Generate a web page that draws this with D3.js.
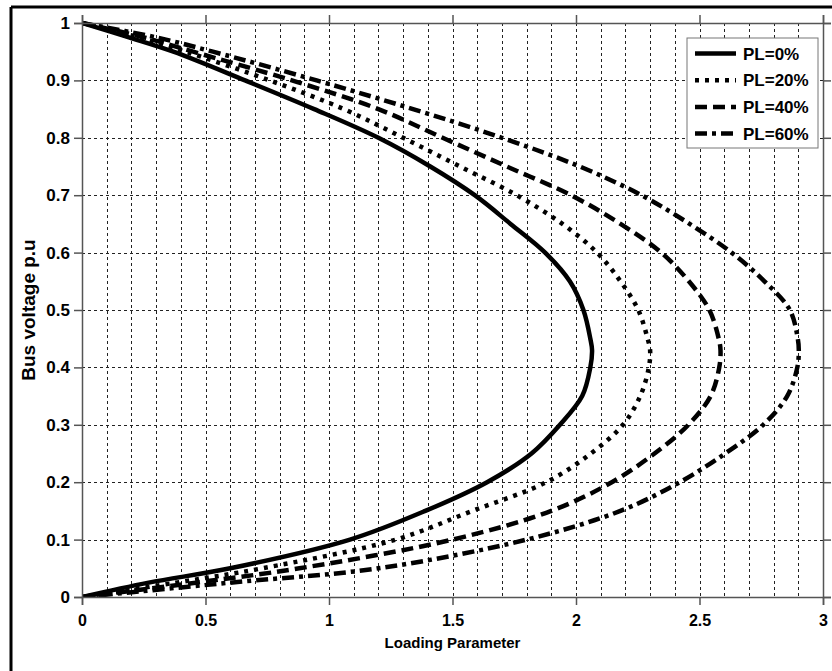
<!DOCTYPE html>
<html>
<head>
<meta charset="utf-8">
<script src="https://cdn.jsdelivr.net/npm/d3@7"></script>
<style>
  body { margin: 0; background: #fff; }
  svg { display: block; }
  text { font-family: Arial, "Liberation Sans", sans-serif; font-weight: bold; fill: #000; }
</style>
</head>
<body>
<svg id="chart" width="832" height="671"></svg>
<script>
// bus voltage (p.u) levels, and the loading parameter at those levels
const voltage = [1, 0.975, 0.95, 0.9, 0.85, 0.8, 0.75, 0.7, 0.65, 0.6, 0.55, 0.5, 0.45, 0.43,
                 0.4, 0.35, 0.3, 0.25, 0.2, 0.15, 0.1, 0.05, 0.025, 0];
const lambdaPL0 = [0, 0.19, 0.37, 0.66, 0.94, 1.2, 1.41, 1.59, 1.735, 1.875, 1.975, 2.03, 2.058, 2.065,
                   2.058, 2.025, 1.935, 1.82, 1.64, 1.39, 1.085, 0.6, 0.27, 0];
const lambdaPL20 = [0, 0.23, 0.42, 0.76, 1.06, 1.3, 1.53, 1.76, 1.945, 2.085, 2.18, 2.252, 2.29, 2.3,
                    2.295, 2.26, 2.19, 2.06, 1.88, 1.58, 1.27, 0.73, 0.38, 0];
const lambdaPL40 = [0, 0.25, 0.45, 0.85, 1.2, 1.46, 1.72, 1.98, 2.18, 2.345, 2.457, 2.54, 2.578, 2.585,
                    2.58, 2.545, 2.455, 2.318, 2.145, 1.9, 1.5, 0.88, 0.46, 0];
const lambdaPL60 = [0, 0.3, 0.53, 0.95, 1.34, 1.7, 2.015, 2.265, 2.46, 2.63, 2.763, 2.866, 2.898, 2.902,
                    2.896, 2.855, 2.758, 2.604, 2.42, 2.18, 1.8, 1.2, 0.6, 0];

const seriesNames = ["PL=0%", "PL=20%", "PL=40%", "PL=60%"];
const seriesLambda = [lambdaPL0, lambdaPL20, lambdaPL40, lambdaPL60];
const seriesDash = [null, "4,6", "12,6", "12,5,4,5"];

const xTicks = [0, 0.5, 1, 1.5, 2, 2.5, 3];
const yTicks = [0, 0.1, 0.2, 0.3, 0.4, 0.5, 0.6, 0.7, 0.8, 0.9, 1];
const xGrid = d3.range(1, 30).map(i => i / 10);
const yGrid = d3.range(1, 10).map(i => i / 10);

const svg = d3.select("#chart");
const plotLeft = 82, plotRight = 823, plotTop = 23, plotBottom = 597;

const x = d3.scaleLinear().domain([0, 3]).range([plotLeft, plotRight]);
const y = d3.scaleLinear().domain([0, 1]).range([plotBottom, plotTop]);

// outer frame (only top and left edges are in view)
svg.append("line").attr("x1", 11).attr("x2", 832).attr("y1", 7).attr("y2", 7)
  .attr("stroke", "#000").attr("stroke-width", 3);
svg.append("line").attr("x1", 11).attr("x2", 11).attr("y1", 7).attr("y2", 671)
  .attr("stroke", "#000").attr("stroke-width", 3);

// grid
const grid = svg.append("g").attr("stroke", "#222").attr("stroke-width", 1)
  .attr("stroke-dasharray", "3,3").attr("shape-rendering", "crispEdges");
grid.selectAll(".vg").data(xGrid).join("line").attr("class", "vg")
  .attr("x1", d => Math.round(x(d)) + 0.5).attr("x2", d => Math.round(x(d)) + 0.5)
  .attr("y1", plotTop).attr("y2", plotBottom);
grid.selectAll(".hg").data(yGrid).join("line").attr("class", "hg")
  .attr("x1", plotLeft).attr("x2", plotRight)
  .attr("y1", d => Math.round(y(d)) + 0.5).attr("y2", d => Math.round(y(d)) + 0.5);

// curves
svg.append("clipPath").attr("id", "plotclip").append("rect")
  .attr("x", plotLeft).attr("y", plotTop - 3)
  .attr("width", plotRight - plotLeft).attr("height", plotBottom - plotTop + 3);

const line = d3.line()
  .x(d => x(d[0])).y(d => y(d[1]))
  .curve(d3.curveCatmullRom.alpha(0.5));

svg.append("g").attr("clip-path", "url(#plotclip)")
  .selectAll("path").data(seriesLambda).join("path")
  .attr("d", lam => line(lam.map((l, i) => [l, voltage[i]])))
  .attr("fill", "none")
  .attr("stroke", "#000")
  .attr("stroke-width", 4.5)
  .attr("stroke-dasharray", (d, i) => seriesDash[i]);

// axes (box with outward ticks)
const axisColor = "#555";
const labelFont = "Arial, 'Liberation Sans', sans-serif";
const xb = svg.append("g").attr("transform", `translate(0,${plotBottom})`)
  .call(d3.axisBottom(x).tickValues(xTicks).tickSize(8).tickFormat(d3.format("")));
const xt = svg.append("g").attr("transform", `translate(0,${plotTop})`)
  .call(d3.axisTop(x).tickValues(xTicks).tickSize(8).tickFormat(""));
const yl = svg.append("g").attr("transform", `translate(${plotLeft},0)`)
  .call(d3.axisLeft(y).tickValues(yTicks).tickSize(8).tickFormat(d3.format("")));
const yr = svg.append("g").attr("transform", `translate(${plotRight},0)`)
  .call(d3.axisRight(y).tickValues(yTicks).tickSize(8).tickFormat(""));

[xb, xt, yl, yr].forEach(g => {
  g.select(".domain").attr("stroke", axisColor).attr("stroke-width", 1.5);
  g.selectAll(".tick line").attr("stroke", axisColor).attr("stroke-width", 1.5);
});
xb.selectAll(".tick text").attr("y", 18).style("font-size", "16px")
  .style("font-family", labelFont).style("font-weight", "bold");
yl.selectAll(".tick text").attr("x", -12).style("font-size", "17px")
  .style("font-family", labelFont).style("font-weight", "bold");

// axis titles
svg.append("text").attr("x", (plotLeft + plotRight) / 2).attr("y", 648)
  .attr("text-anchor", "middle").style("font-size", "15px").text("Loading Parameter");
svg.append("text").attr("transform", `translate(35,${(plotTop + plotBottom) / 2}) rotate(-90)`)
  .attr("text-anchor", "middle").style("font-size", "19px").text("Bus voltage p.u");

// legend
const lg = svg.append("g").attr("transform", "translate(687,38)");
lg.append("rect").attr("width", 131).attr("height", 110)
  .attr("fill", "#fff").attr("stroke", "#777").attr("stroke-width", 1);
const items = lg.selectAll(".item").data(seriesNames).join("g").attr("class", "item")
  .attr("transform", (d, i) => `translate(0,${15.5 + i * 26.7})`);
items.append("line").attr("x1", 8).attr("x2", 49).attr("y1", 0).attr("y2", 0)
  .attr("stroke", "#000").attr("stroke-width", 4.5)
  .attr("stroke-dasharray", (d, i) => seriesDash[i]);
items.append("text").attr("x", 56).attr("y", 6).style("font-size", "17px").text(d => d);
</script>
</body>
</html>
